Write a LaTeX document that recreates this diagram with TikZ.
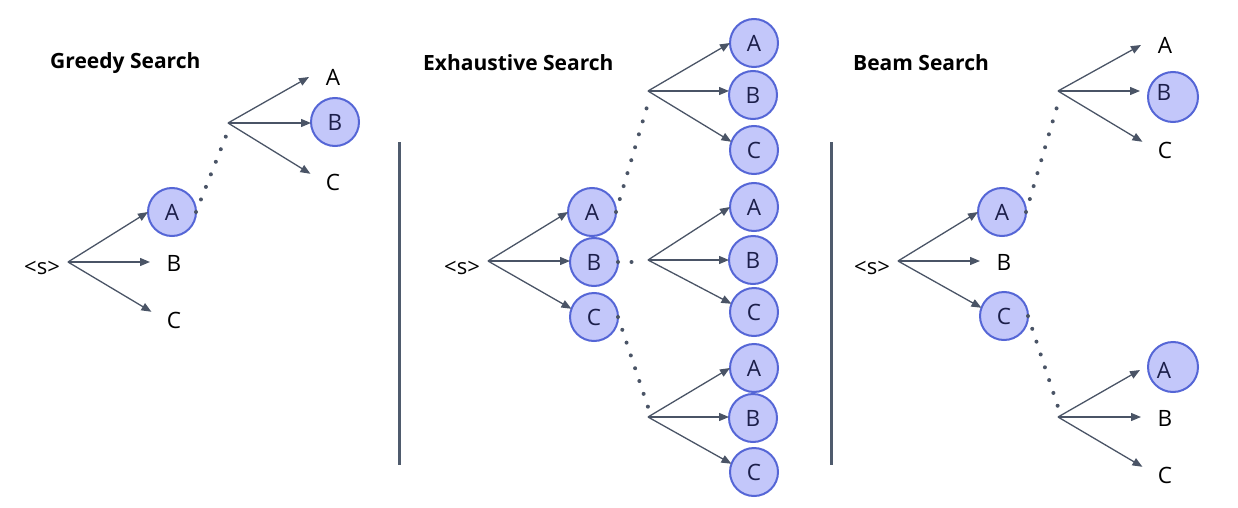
\documentclass[tikz,border=0pt]{standalone}
\usepackage{fontspec}
\setmainfont{Open Sans}
\usetikzlibrary{arrows.meta,calc}
\definecolor{cfill}{HTML}{C3C7FA}
\definecolor{cdraw}{HTML}{5566D6}
\definecolor{arrc}{HTML}{4A5466}
\definecolor{sepc}{HTML}{4F5B6D}
\definecolor{ltr}{HTML}{1C1F4A}
\begin{document}
\begin{tikzpicture}[x=1pt,y=-1pt,
  txt/.style={circle,minimum size=48pt,inner sep=0pt,outer sep=0pt,font=\fontsize{22.5}{26}\selectfont},
  circ/.style={txt,draw=cdraw,fill=cfill,line width=2pt,text=ltr},
  ring/.style={circle,minimum size=50pt,inner sep=0pt,draw=cdraw,fill=cfill,line width=2pt},
  start/.style={inner sep=0pt,font=\fontsize{22}{26}\selectfont},
  title/.style={anchor=west,inner sep=0pt,font=\fontsize{21}{25}\selectfont\bfseries},
  arr/.style={draw=arrc,line width=1.3pt,-{Triangle[length=10pt,width=8pt]}},
  dotline/.style={draw=arrc,line width=4pt,line cap=round,dash pattern=on 0pt off 13.5pt},
  sep/.style={draw=sepc,line width=3pt}]
\useasboundingbox (0,0) rectangle (1238,508);

% ---------------- Greedy Search ----------------
\node[title] (gt) at (50,63) {Greedy Search};
\node[start] (gs) at (42,268) {<s>};
\coordinate (gf0) at (68,262);
\node[circ] (gA) at (172,212) {A};
\node[txt]  (gB) at (174,263) {B};
\node[txt]  (gC) at (174,320) {C};
\draw[arr] (gf0) -- (gA.west);
\draw[arr] (gf0) -- (gf0 -| gB.west);
\draw[arr] (gf0) -- (gC.160);
\coordinate (gf1) at (228,123);
\draw[dotline] (gA.east) -- ($(gf1)+(0,8)$);
\node[txt]  (gA2) at (333,77) {A};
\node[circ] (gB2) at (335,122) {B};
\node[txt]  (gC2) at (333,182) {C};
\draw[arr] (gf1) -- (gA2.west);
\draw[arr] (gf1) -- (gf1 -| gB2.west);
\draw[arr] (gf1) -- (gC2.160);

% separator 1
\coordinate (s1a) at (399,142);
\coordinate (s1b) at (399,465);
\draw[sep] (s1a) -- (s1b);

% ---------------- Exhaustive Search ----------------
\node[title] (et) at (423,63) {Exhaustive Search};
\node[start] (es) at (462,268) {<s>};
\coordinate (ef0) at (488,261);
\node[circ] (eA) at (592,212) {A};
\node[circ] (eB) at (594,262) {B};
\node[circ] (eC) at (594,317) {C};
\draw[arr] (ef0) -- (eA.west);
\draw[arr] (ef0) -- (ef0 -| eB.west);
\draw[arr] (ef0) -- (eC.160);

\coordinate (ef1) at (648,91);
\coordinate (ef2) at (648,260);
\coordinate (ef3) at (648,417);
\draw[dotline] (eA.east) -- ($(ef1)+(1,9)$);
\draw[dotline] (eB.east) -- ($(eB.east)+(15,0)$);
\draw[dotline] (eC.east) -- ($(ef3)+(1,-7)$);

\node[circ] (e1A) at (754,43) {A};
\node[circ] (e1B) at (753,95) {B};
\node[circ] (e1C) at (754,150) {C};
\draw[arr] (ef1) -- (e1A.west);
\draw[arr] (ef1) -- (ef1 -| e1B.west);
\draw[arr] (ef1) -- (e1C.160);

\node[circ] (e2A) at (754,207) {A};
\node[circ] (e2B) at (753,260) {B};
\node[circ] (e2C) at (754,312) {C};
\draw[arr] (ef2) -- (e2A.west);
\draw[arr] (ef2) -- (ef2 -| e2B.west);
\draw[arr] (ef2) -- (e2C.160);

\node[circ] (e3A) at (754,368) {A};
\node[circ] (e3B) at (753,418) {B};
\node[circ] (e3C) at (754,472) {C};
\draw[arr] (ef3) -- (e3A.west);
\draw[arr] (ef3) -- (ef3 -| e3B.west);
\draw[arr] (ef3) -- (e3C.160);

% separator 2
\coordinate (s2a) at (831,142);
\coordinate (s2b) at (831,465);
\draw[sep] (s2a) -- (s2b);

% ---------------- Beam Search ----------------
\node[title] (bt) at (853,63) {Beam Search};
\node[start] (bs) at (872,268) {<s>};
\coordinate (bf0) at (898,261);
\node[circ] (bA) at (1002,212) {A};
\node[txt]  (bB) at (1004,262) {B};
\node[circ] (bC) at (1004,316) {C};
\draw[arr] (bf0) -- (bA.west);
\draw[arr] (bf0) -- (bf0 -| bB.west);
\draw[arr] (bf0) -- (bC.160);

\coordinate (bf1) at (1058,91);
\coordinate (bf2) at (1058,417);
\draw[dotline] (bA.east) -- ($(bf1)+(1,9)$);
\draw[dotline] (bC.east) -- ($(bf2)+(1,-7)$);

\node[ring] (bB2r) at (1173,97) {};
\node[txt] (bA2) at (1165,45) {A};
\node[txt,text=ltr] (bB2) at (1164,92) {B};
\node[txt] (bC2) at (1165,150) {C};
\draw[arr] (bf1) -- (bA2.west);
\draw[arr] (bf1) -- (bf1 -| bB2.west);
\draw[arr] (bf1) -- (bC2.160);

\node[ring] (bA3r) at (1173,367) {};
\node[txt,text=ltr] (bA3) at (1164,370) {A};
\node[txt] (bB3) at (1165,418) {B};
\node[txt] (bC3) at (1165,475) {C};
\draw[arr] (bf2) -- (bA3.west);
\draw[arr] (bf2) -- (bf2 -| bB3.west);
\draw[arr] (bf2) -- (bC3.160);
\end{tikzpicture}
\end{document}
